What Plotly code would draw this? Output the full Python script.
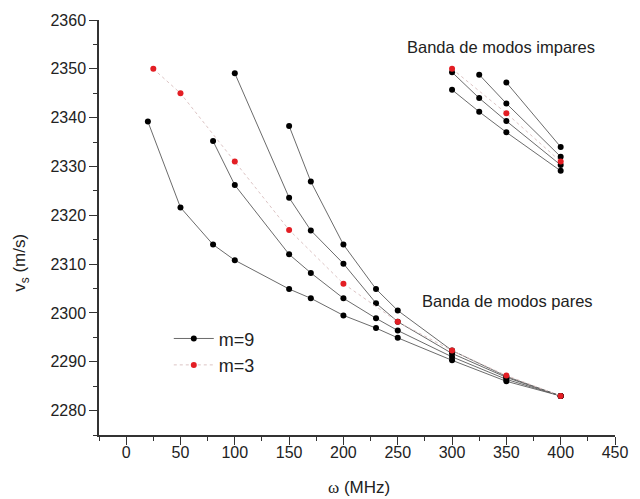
import plotly.graph_objects as go

# ---- data (omega in MHz, v_s in m/s) ----
# m=9, lower band ("modos pares"), four branches
xA = [20, 50, 80, 100, 150, 170, 200, 230, 250, 300, 350, 400]
yA = [2339.2, 2321.6, 2314.0, 2310.8, 2304.9, 2303.0, 2299.5, 2296.9, 2294.9, 2290.3, 2286.0, 2283.0]
xB = [80, 100, 150, 170, 200, 230, 250, 300, 350, 400]
yB = [2335.2, 2326.2, 2312.0, 2308.2, 2303.0, 2298.9, 2296.4, 2291.0, 2286.4, 2283.0]
xC = [100, 150, 170, 200, 230, 250, 300, 350, 400]
yC = [2349.1, 2323.6, 2316.9, 2310.1, 2302.0, 2298.2, 2291.7, 2286.8, 2283.0]
xD = [150, 170, 200, 230, 250, 300, 350, 400]
yD = [2338.3, 2326.9, 2314.0, 2304.9, 2300.5, 2292.3, 2287.0, 2283.0]
# m=9, upper band ("modos impares")
xE = [300, 325, 350, 400]
yE = [2345.7, 2341.2, 2337.0, 2329.1]
xF = [300, 325, 350, 400]
yF = [2349.3, 2344.0, 2339.3, 2330.3]
xG = [325, 350, 400]
yG = [2348.8, 2342.9, 2332.0]
xH = [350, 400]
yH = [2347.2, 2334.0]
# m=3
xR_low = [25, 50, 100, 150, 200, 250, 300, 350, 400]
yR_low = [2350.0, 2345.0, 2331.0, 2317.0, 2306.0, 2298.2, 2292.3, 2287.2, 2283.0]
xR_up = [300, 350, 400]
yR_up = [2350.0, 2340.9, 2331.0]

FONT = "Arial, Liberation Sans, sans-serif"
fig = go.Figure()

black_sets = [(xA, yA), (xB, yB), (xC, yC), (xD, yD), (xE, yE), (xF, yF), (xG, yG), (xH, yH)]
for i, (xs, ys) in enumerate(black_sets):
    fig.add_trace(go.Scatter(
        x=xs, y=ys, mode="lines+markers", name="m=9", legendgroup="m9",
        showlegend=(i == 0),
        line=dict(color="#5a5a5a", width=0.9),
        marker=dict(color="black", size=6),
    ))

for i, (xs, ys) in enumerate([(xR_low, yR_low), (xR_up, yR_up)]):
    fig.add_trace(go.Scatter(
        x=xs, y=ys, mode="lines+markers", name="m=3", legendgroup="m3",
        showlegend=(i == 0),
        line=dict(color="#dcc4c4", width=1, dash="dot"),
        marker=dict(color="#e31e24", size=6),
    ))

L, R, T, B = 99, 16, 19, 64
W, H = 640, 499
pw, ph = W - L - R, H - T - B

def px(xp):
    return (xp - L) / pw

def py(yp):
    return (H - B - yp) / ph

fig.update_layout(
    width=W, height=H,
    margin=dict(l=L, r=R, t=T, b=B),
    paper_bgcolor="white", plot_bgcolor="white",
    font=dict(family=FONT, size=16, color="#222222"),
    showlegend=True,
    legend=dict(x=px(170), y=py(320), xanchor="left", yanchor="top",
                font=dict(size=18, color="#222222"), bgcolor="rgba(0,0,0,0)",
                tracegroupgap=0, itemwidth=40),
    annotations=[
        dict(text="Banda de modos impares", x=px(508), y=py(46), xref="paper", yref="paper",
             showarrow=False, font=dict(size=16.5, color="#222222"), xanchor="center", yanchor="middle"),
        dict(text="Banda de modos pares", x=px(515), y=py(301), xref="paper", yref="paper",
             showarrow=False, font=dict(size=16.5, color="#222222"), xanchor="center", yanchor="middle"),
        dict(text="v<sub>s</sub> (m/s)", x=px(20), y=py(262), xref="paper", yref="paper",
             showarrow=False, textangle=-90, font=dict(size=17, color="#222222"),
             xanchor="center", yanchor="middle"),
        dict(text="<span style=\"font-family:'Liberation Serif', 'Times New Roman', serif\">\u03c9</span> (MHz)",
             x=px(364), y=py(488), xref="paper", yref="paper",
             showarrow=False, font=dict(size=17, color="#222222"),
             xanchor="center", yanchor="middle"),
    ],
)

fig.update_xaxes(
    range=[-25, 450], dtick=50, tick0=0, showgrid=False, zeroline=False,
    showline=True, linecolor="#333333", linewidth=1.5,
    ticks="outside", ticklen=8, tickwidth=1.3, tickcolor="#333333",
    ticklabelstandoff=-6,
    minor=dict(dtick=25, tick0=0, ticks="outside", ticklen=4, tickwidth=1.2, tickcolor="#333333", showgrid=False),
    tickfont=dict(size=16, color="#222222"),
)
fig.update_yaxes(
    range=[2275, 2360], dtick=10, tick0=2280, showgrid=False, zeroline=False,
    showline=True, linecolor="#333333", linewidth=1.5,
    ticks="outside", ticklen=8, tickwidth=1.3, tickcolor="#333333",
    minor=dict(dtick=5, tick0=2280, ticks="outside", ticklen=4, tickwidth=1.2, tickcolor="#333333", showgrid=False),
    tickfont=dict(size=16, color="#222222"),
)

fig.write_html("out.html")
